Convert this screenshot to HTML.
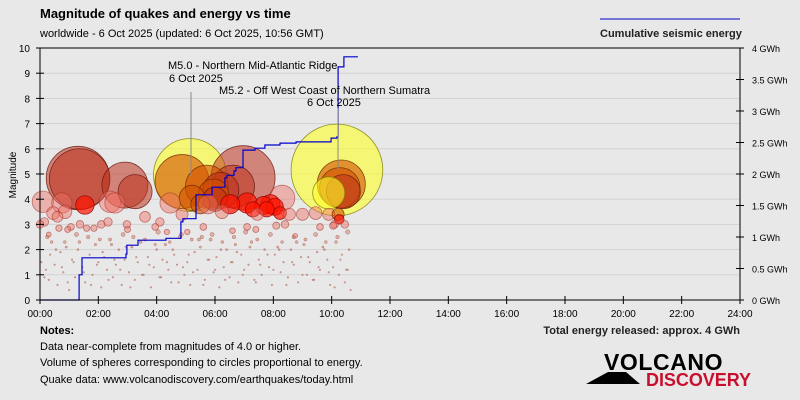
<!DOCTYPE html>
<html><head><meta charset="utf-8">
<style>
body{margin:0;background:#e8e8e8;}
svg{display:block;font-family:"Liberation Sans",sans-serif;}
</style></head>
<body>
<svg id="chart" width="800" height="400" viewBox="0 0 800 400" xmlns="http://www.w3.org/2000/svg">
<rect x="0" y="0" width="800" height="400" fill="#e8e8e8"/>
<text x="40" y="18" font-size="13" font-weight="bold" fill="#000">Magnitude of quakes and energy vs time</text>
<text x="40" y="37" font-size="11" fill="#000">worldwide -  6 Oct 2025 (updated: 6 Oct 2025, 10:56 GMT)</text>
<line x1="600" y1="19" x2="740" y2="19" stroke="#0000cc" stroke-width="1"/>
<text x="600" y="37" font-size="11" font-weight="bold" fill="#222">Cumulative seismic energy</text>
<g id="grid"></g>
<g id="quakes"></g>
<g id="energy"></g>
<g id="axes"></g>
<g id="annot">
<line x1="191" y1="92" x2="191" y2="176" stroke="#888" stroke-width="1"/>
<text x="168" y="69" font-size="11" fill="#000">M5.0 - Northern Mid-Atlantic Ridge</text>
<text x="169" y="82" font-size="11" fill="#000">6 Oct 2025</text>
<line x1="338" y1="108" x2="338" y2="170" stroke="#888" stroke-width="1"/>
<text x="219" y="94" font-size="11" fill="#000">M5.2 - Off West Coast of Northern Sumatra</text>
<text x="307" y="106" font-size="11" fill="#000">6 Oct 2025</text>
</g>
<text x="40" y="334" font-size="11" font-weight="bold" fill="#000">Notes:</text>
<text x="40" y="350" font-size="11" fill="#000">Data near-complete from magnitudes of 4.0 or higher.</text>
<text x="40" y="366" font-size="11" fill="#000">Volume of spheres corresponding to circles proportional to energy.</text>
<text x="40" y="383" font-size="11" fill="#000">Quake data: www.volcanodiscovery.com/earthquakes/today.html</text>
<text x="740" y="334" font-size="11" font-weight="bold" fill="#222" text-anchor="end">Total energy released: approx. 4 GWh</text>
<g>
<polygon points="586,384 608,372 626,372 640,384" fill="#000"/>
<text x="604" y="370" font-size="23" font-weight="bold" fill="#000" letter-spacing="-0.5" textLength="118">VOLCANO</text>
<text x="646" y="386" font-size="18" font-weight="bold" fill="#c8102e" textLength="105">DISCOVERY</text>
</g>
</svg>
<script>
const xTicks=["00:00","02:00","04:00","06:00","08:00","10:00","12:00","14:00","16:00","18:00","20:00","22:00","24:00"];
const magTicks=[0,1,2,3,4,5,6,7,8,9,10];
const energyTicks=["0 GWh","0.5 GWh","1 GWh","1.5 GWh","2 GWh","2.5 GWh","3 GWh","3.5 GWh","4 GWh"];
// cumulative energy steps: hour, GWh
const energyHours=[0,1.34,1.34,1.44,2.95,2.98,3.36,4.32,4.83,4.90,5.35,5.90,6.34,6.41,6.65,6.72,6.96,7.37,7.71,8.23,8.78,9.98,10.18,10.22,10.42,10.90];
const energyVals=[0,0.05,0.40,0.67,0.73,0.87,0.95,0.98,1.24,1.29,1.67,1.79,1.94,1.98,2.05,2.10,2.38,2.41,2.46,2.49,2.51,2.57,2.59,3.70,3.86,3.86];
// quakes: hour, magnitude, colour class
const qHours=[1.30,1.36,2.91,3.26,5.14,4.87,6.96,6.62,5.72,5.95,6.20,10.18,10.28,10.40,10.33,9.90,
0.10,0.00,0.15,0.45,0.75,0.60,0.86,1.54,1.37,1.06,2.40,2.57,2.33,2.98,3.60,4.11,4.46,4.87,5.21,5.50,5.76,6.00,6.24,6.52,
7.10,7.30,7.67,7.77,7.90,8.23,8.30,7.45,8.55,9.00,9.45,9.90,10.22,10.26,10.10,10.45,8.05,7.10,7.40,8.10,8.40,0.30,0.65,0.95,1.60,1.85,2.10,3.00,3.95,4.35,5.05,5.60,6.60,8.75,9.60,10.05];
const qMags=[4.84,4.80,4.56,4.30,4.96,4.70,4.85,4.50,4.50,4.20,4.35,5.16,4.45,4.30,4.60,4.25,
3.90,3.00,3.10,3.45,3.85,3.30,3.50,3.77,3.00,2.90,3.90,3.85,3.10,3.00,3.30,3.10,3.85,3.40,4.05,3.80,3.80,4.00,3.50,3.80,
3.85,3.60,3.75,3.60,3.80,3.45,4.05,3.40,3.40,3.40,3.45,3.40,3.40,3.20,3.00,3.00,3.70,2.90,2.80,2.95,3.00,2.60,2.85,2.80,2.85,2.85,3.00,2.80,2.90,2.70,2.70,2.90,2.75,2.55,2.90,2.95];
const qColors=["d","d","d","d","y","o","d","d","o","o","d","y","o","d","o","y",
"p","p","p","p","p","p","p","r","p","p","p","p","p","p","p","p","p","p","o","o","p","d","p","r",
"r","r","r","r","r","r","p","p","p","p","p","p","o","r","p","p","r","p","p","p","p","p","p","p","p","p","p","p","p","p","p","p","p","p","p","p"];
// small quakes (hours, magnitudes)
const sHours=[0.05,0.2,0.3,0.4,0.5,0.6,0.7,0.8,0.9,1.0,1.1,1.2,1.3,1.45,1.55,1.7,1.8,1.9,2.0,2.1,2.2,2.3,2.4,2.5,2.6,2.7,2.8,2.9,3.05,3.15,3.25,3.35,3.45,3.55,3.7,3.8,3.9,4.0,4.1,4.2,4.3,4.4,4.5,4.6,4.7,4.8,4.95,5.05,5.15,5.3,5.4,5.5,5.65,5.75,5.85,5.95,6.05,6.15,6.3,6.4,6.5,6.6,6.7,6.8,6.9,7.0,7.15,7.25,7.35,7.5,7.6,7.7,7.85,7.95,8.05,8.15,8.25,8.35,8.5,8.6,8.7,8.85,8.95,9.05,9.15,9.25,9.35,9.5,9.6,9.7,9.85,9.95,10.05,10.15,10.25,10.35,10.45,10.55,10.6,
0.15,0.35,0.55,0.75,0.95,1.15,1.35,1.5,1.75,1.95,2.15,2.35,2.55,2.75,2.95,3.1,3.3,3.5,3.75,3.95,4.15,4.35,4.55,4.75,4.9,5.1,5.25,5.45,5.6,5.8,6.0,6.2,6.35,6.55,6.75,6.95,7.2,7.4,7.55,7.8,8.0,8.2,8.45,8.65,8.8,9.0,9.2,9.4,9.55,9.75,9.9,10.1,10.3,10.5,10.65,
0.25,0.85,1.25,1.65,2.05,2.45,2.85,3.2,3.6,4.05,4.45,4.85,5.2,5.55,5.9,6.25,6.65,7.05,7.45,7.9,8.3,8.7,9.1,9.45,9.8,10.2,10.55];
const sMags=[1.5,1.2,0.8,2.3,1.4,0.6,1.9,1.1,2.1,0.4,1.6,0.9,2.0,1.3,0.7,1.8,1.0,2.2,1.5,0.5,1.7,1.2,2.4,0.9,1.4,2.0,0.6,1.6,1.1,2.1,0.8,1.5,2.3,1.0,1.7,0.5,1.3,2.0,0.9,1.6,2.2,1.2,0.7,1.8,1.4,2.5,1.0,1.5,0.6,1.9,1.2,2.1,0.8,1.6,2.4,1.1,1.7,0.5,1.3,2.0,0.9,1.5,2.2,0.7,1.8,1.2,1.4,2.3,0.8,1.6,1.0,2.0,1.3,0.6,1.8,2.1,1.1,1.5,0.9,2.0,1.4,0.7,1.7,2.2,1.0,1.5,0.8,1.9,1.2,2.1,1.6,0.6,1.3,2.3,1.0,1.8,0.7,1.2,2.0,
0.9,1.8,2.0,1.3,0.7,1.5,2.3,1.1,0.6,1.4,1.9,0.8,1.6,1.2,2.1,0.5,1.7,1.0,1.4,2.2,0.9,1.5,2.0,0.7,1.3,1.8,1.1,2.4,0.6,1.6,1.2,2.0,0.8,1.5,1.9,1.0,2.1,0.7,1.4,1.8,1.2,2.0,0.6,1.5,2.3,1.0,1.7,0.8,1.3,2.0,1.1,0.5,1.6,1.2,0.4,
2.5,2.3,2.6,2.5,2.4,2.2,2.6,2.5,2.4,2.7,2.3,2.6,2.4,2.5,2.6,2.3,2.5,2.7,2.4,2.6,2.3,2.5,2.4,2.6,2.3,2.5,2.7];

const NS="http://www.w3.org/2000/svg";
const X0=40,X1=740,Y0=300,Y1=48;
function xs(h){return X0+(X1-X0)*h/24;}
function ym(m){return Y0-(Y0-Y1)*m/10;}
function ye(g){return Y0-(Y0-Y1)*g/4;}
function mk(t,a,p){const e=document.createElementNS(NS,t);for(const k in a)e.setAttribute(k,a[k]);(p||document.getElementById('chart')).appendChild(e);return e;}
const grid=document.getElementById('grid'),axes=document.getElementById('axes'),qg=document.getElementById('quakes'),eg=document.getElementById('energy');
magTicks.forEach(m=>{
  const l=mk('line',{x1:X0,x2:X1,y1:ym(m),y2:ym(m),stroke:'#d2d2d2','stroke-width':1},grid);
  
  
  const t=mk('text',{x:X0-10,y:ym(m)+4,'font-size':10,'text-anchor':'end',fill:'#000'},axes);
  t.textContent=m;
  
  
  const tk=mk('line',{x1:X0-4,x2:X0+4,y1:ym(m),y2:ym(m),stroke:'#000'},axes);
  
  
});
energyTicks.forEach((s,i)=>{
  const g=i*0.5;
  const t=mk('text',{x:X1+12,y:ye(g)+4,'font-size':9,fill:'#000'},axes);
  t.textContent=s;
  
  
  const tk=mk('line',{x1:X1-4,x2:X1+4,y1:ye(g),y2:ye(g),stroke:'#000'},axes);
  
  
});
xTicks.forEach((s,i)=>{
  const x=xs(i*2);
  const t=mk('text',{x:x,y:317,'font-size':10,'text-anchor':'middle',fill:'#000'},axes);
  t.textContent=s;
  
  
  const tk=mk('line',{x1:x,x2:x,y1:Y0-4,y2:Y0+4,stroke:'#000'},axes);
  
  
});
[[X0,Y0,X1,Y0,'x-axis'],[X0,Y1,X0,Y0,'y-axis'],[X1,Y1,X1,Y0,'y2-axis'],[X0,Y1,X1,Y1,'plot-top-border']].forEach(a=>{
  const l=mk('line',{x1:a[0],y1:a[1],x2:a[2],y2:a[3],stroke:'#000','stroke-width':1},axes);
  
  
});
const yt=mk('text',{x:0,y:0,'font-size':10,'text-anchor':'middle',transform:'translate(16,175) rotate(-90)',fill:'#000'},axes);
yt.textContent='Magnitude';



// small quakes
sHours.forEach((h,i)=>{
  const m=sMags[i];
  const r=Math.max(0.8,40*Math.pow(10,0.5*(m-5.2)));
  const c=mk('circle',{cx:xs(h),cy:ym(m),r:r,fill:'rgba(200,110,90,0.45)',stroke:'rgba(150,50,30,0.55)','stroke-width':0.5},qg);
  
  
});
const styles={d:['rgba(190,50,30,0.55)','rgba(100,20,10,0.8)'],r:['rgba(255,20,0,0.7)','rgba(140,0,0,0.8)'],o:['rgba(210,80,0,0.6)','rgba(110,40,0,0.8)'],y:['rgba(255,255,40,0.6)','rgba(120,120,0,0.8)'],p:['rgba(240,110,100,0.45)','rgba(160,50,40,0.6)']};
const order=qHours.map((h,i)=>i).sort((a,b)=>qMags[b]-qMags[a]);
order.forEach(i=>{
  const m=qMags[i],st=styles[qColors[i]];
  const r=48*Math.pow(10,0.5*(m-5.2));
  const c=mk('circle',{cx:xs(qHours[i]),cy:ym(m),r:r,fill:st[0],stroke:st[1],'stroke-width':0.8},qg);
  
  
});
// energy step line (horizontal then vertical)
let d='M'+xs(energyHours[0]).toFixed(1)+','+ye(energyVals[0]).toFixed(1);
for(let i=1;i<energyHours.length;i++){
  d+='H'+xs(energyHours[i]).toFixed(1)+'V'+ye(energyVals[i]).toFixed(1);
}
const p=mk('path',{d:d,fill:'none',stroke:'#0000cc','stroke-width':1.2},eg);


</script>
</body></html>
